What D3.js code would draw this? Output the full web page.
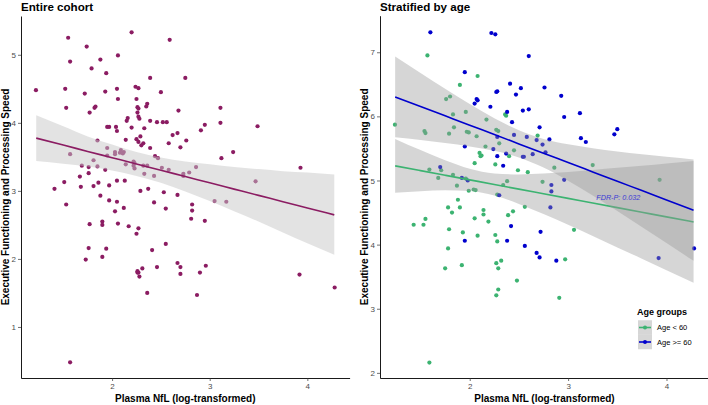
<!DOCTYPE html>
<html><head><meta charset="utf-8">
<script src="https://cdn.jsdelivr.net/npm/d3@7"></script>
<style>body{margin:0;background:#fff}svg{display:block}text{font-family:"Liberation Sans",Arial,Helvetica,sans-serif}</style>
</head><body><svg id="c" width="708" height="405"></svg>
<script>
// ---------- data ----------
const xTicks = [2, 3, 4];
const leftYTicks = [1, 2, 3, 4, 5];
const rightYTicks = [2, 3, 4, 5, 6, 7];

// Entire cohort
const cohortX = [2.20,1.55,2.59,1.74,2.06,1.57,1.88,1.79,1.94,2.39,2.75,1.22,1.52,2.05,1.93,2.24,2.27,2.50,1.72,2.06,2.25,1.53,1.82,1.83,2.36,2.35,2.26,2.27,2.68,3.11,1.77,2.26,2.16,2.15,2.27,2.28,2.39,2.46,2.52,2.56,3.11,2.95,3.49,1.95,1.97,2.04,2.20,2.33,2.91,2.05,2.67,2.62,2.25,2.29,2.14,2.76,1.85,2.27,2.32,2.30,2.58,2.39,2.70,1.95,2.09,2.12,3.24,1.57,1.95,2.03,2.44,2.03,2.08,2.11,2.47,3.12,1.81,2.22,2.23,2.14,2.22,1.85,1.76,1.69,2.32,2.36,2.51,2.58,2.86,2.23,1.93,2.79,2.73,2.73,2.33,2.43,1.76,3.93,1.67,3.47,1.51,1.86,2.05,2.13,1.97,1.68,1.41,1.81,2.37,2.29,1.88,2.53,2.67,1.97,3.05,3.17,1.53,2.05,2.82,2.43,2.82,2.03,2.12,2.55,2.81,1.90,2.95,1.77,1.90,2.06,2.17,2.27,2.25,2.55,1.76,1.94,2.41,1.90,1.73,2.67,2.70,2.96,2.46,2.31,2.26,2.27,2.26,2.28,2.70,2.90,3.92,4.28,2.36,2.87,1.57];
const cohortY = [5.33,5.25,5.22,5.12,4.99,4.90,4.93,4.80,4.73,4.66,4.66,4.48,4.50,4.50,4.46,4.53,4.51,4.45,4.43,4.35,4.35,4.22,4.22,4.24,4.28,4.24,4.23,4.21,4.18,4.22,4.15,4.15,4.07,4.03,4.09,4.06,4.03,4.01,4.01,4.01,4.00,3.97,3.95,3.94,3.94,3.94,3.93,3.92,3.89,3.88,3.85,3.82,3.76,3.80,3.75,3.74,3.74,3.72,3.70,3.67,3.70,3.63,3.64,3.63,3.60,3.57,3.57,3.54,3.52,3.54,3.51,3.57,3.56,3.55,3.48,3.48,3.45,3.43,3.41,3.39,3.37,3.36,3.35,3.37,3.37,3.37,3.34,3.31,3.35,3.33,3.31,3.27,3.25,3.22,3.25,3.22,3.26,3.34,3.21,3.14,3.13,3.12,3.15,3.15,3.08,3.06,3.03,3.07,3.03,3.00,2.93,2.98,2.94,2.86,2.85,2.84,2.80,2.84,2.80,2.83,2.71,2.70,2.75,2.74,2.59,2.55,2.56,2.51,2.50,2.52,2.48,2.45,2.37,2.22,2.16,2.15,2.13,2.03,1.99,1.94,1.88,1.90,1.88,1.86,1.82,1.80,1.80,1.74,1.78,1.80,1.77,1.58,1.50,1.47,0.48];
const cohortFitX = [1.223,1.5,1.75,2.0,2.25,2.5,2.75,3.0,3.25,3.5,3.75,4.0,4.276];
const cohortFit  = [3.775,3.673,3.580,3.488,3.396,3.303,3.211,3.118,3.026,2.934,2.841,2.749,2.647];
const cohortLo   = [3.44,3.40,3.36,3.30,3.22,3.12,2.99,2.85,2.70,2.55,2.39,2.23,2.06];
const cohortHi   = [4.11,3.95,3.80,3.68,3.57,3.49,3.43,3.39,3.35,3.32,3.29,3.27,3.24];

// Stratified by age
const groups = ["Age < 60", "Age >= 60"];
const youngX = [1.57,2.08,1.90,1.76,1.80,1.96,1.24,1.83,1.54,1.55,1.79,1.84,1.97,1.99,2.17,2.27,2.29,2.36,2.37,2.07,2.30,2.16,2.10,2.12,2.11,2.05,2.40,2.45,2.49,2.59,2.69,2.26,1.59,1.71,1.68,1.83,1.87,1.96,1.99,2.04,2.06,2.28,2.38,2.34,2.86,3.25,3.93,2.74,1.88,1.78,1.90,1.82,1.55,1.43,1.53,2.14,2.14,2.05,2.19,2.44,2.39,2.56,1.79,1.93,2.08,2.26,2.28,1.78,2.32,2.27,2.29,1.92,1.75,2.48,2.29,2.27,1.59,3.06,2.97,2.91];
const youngY = [6.95,6.63,6.49,6.27,6.31,6.07,5.87,6.03,5.77,5.74,5.73,5.83,5.76,5.75,5.95,5.79,5.77,6.03,6.01,5.69,5.58,5.53,5.43,5.39,5.38,5.27,5.38,5.47,5.16,5.13,5.70,5.25,5.17,5.16,5.04,5.09,4.92,5.03,4.84,4.86,4.85,4.78,4.99,4.93,5.20,5.24,5.01,4.98,4.70,4.58,4.58,4.50,4.40,4.31,4.31,4.54,4.47,4.41,4.36,4.52,4.46,4.59,4.24,4.19,4.14,4.15,4.05,3.94,3.75,3.71,3.63,3.68,3.63,3.44,3.30,3.21,2.16,4.23,3.77,3.17];
const oldX = [1.60,2.22,2.26,2.60,1.95,2.41,2.52,2.76,2.93,2.27,2.28,2.47,2.07,2.08,2.05,2.21,2.96,3.12,2.38,2.60,2.54,2.43,2.71,2.81,3.13,3.18,3.50,3.47,2.28,2.45,2.58,2.68,2.74,1.95,2.24,2.37,2.64,2.54,2.55,2.28,2.77,2.34,1.70,1.92,1.98,2.83,2.83,2.96,2.30,2.82,2.42,2.72,1.95,2.38,2.56,2.68,2.71,2.88,3.92,4.28];
const oldY = [7.31,7.30,7.28,6.94,6.69,6.51,6.44,6.45,6.32,6.38,6.39,6.34,6.27,6.25,6.20,6.15,5.99,6.05,6.07,6.11,6.09,5.91,5.83,5.64,5.66,5.60,5.80,5.72,5.68,5.71,5.68,5.63,5.56,5.53,5.49,5.42,5.41,5.37,5.37,5.38,5.44,5.23,5.21,5.04,5.00,4.93,4.83,5.01,4.77,4.58,4.29,4.20,4.06,4.06,3.98,3.87,3.80,3.75,3.79,3.94];
const fitX    = [1.242,1.5,1.75,2.0,2.25,2.5,2.75,3.0,3.25,3.5,3.75,4.0,4.275];
const youngFit = [5.228,5.154,5.082,5.010,4.938,4.865,4.793,4.721,4.649,4.577,4.505,4.433,4.354];
const youngLo  = [4.807,4.834,4.849,4.837,4.767,4.635,4.477,4.308,4.134,3.957,3.780,3.601,3.404];
const youngHi  = [5.649,5.474,5.315,5.183,5.109,5.095,5.109,5.134,5.164,5.197,5.230,5.265,5.304];
const oldFit   = [6.304,6.154,6.008,5.862,5.717,5.571,5.425,5.280,5.134,4.988,4.843,4.697,4.537];
const oldLo    = [5.674,5.631,5.585,5.532,5.463,5.359,5.201,4.996,4.765,4.523,4.276,4.025,3.747];
const oldHi    = [6.934,6.677,6.431,6.192,5.971,5.783,5.649,5.564,5.503,5.453,5.410,5.369,5.327];
const fdrLabel = "FDR-P: 0.032";
const fdrPos = [3.51, 4.735];

// ---------- drawing ----------
const svg = d3.select("#c");
const purple = "#8B1C62", green = "#3CB371", blue = "#0000CD";
const FONT = '"Liberation Sans",Arial,Helvetica,sans-serif';

function panel(o){
  const g = svg.append("g");
  const x = d3.scaleLinear().domain(o.xd).range(o.xr);
  const y = d3.scaleLinear().domain(o.yd).range(o.yr);
  // points
  o.series.forEach(s=>{
    g.append("g").selectAll("circle").data(s.xs.map((v,i)=>[v,s.ys[i]])).join("circle")
      .attr("cx",d=>x(d[0])).attr("cy",d=>y(d[1])).attr("r",2.1).attr("fill",s.color);
  });
  // smooths
  o.smooths.forEach(s=>{
    const pts = s.xs.map((v,i)=>({x:v,lo:s.lo[i],hi:s.hi[i],f:s.fit[i]}));
    g.append("path").datum(pts)
      .attr("d",d3.area().x(d=>x(d.x)).y0(d=>y(d.lo)).y1(d=>y(d.hi)).curve(d3.curveMonotoneX))
      .attr("fill",s.fill).attr("fill-opacity",s.alpha);
    g.append("path").datum(pts)
      .attr("d",d3.line().x(d=>x(d.x)).y(d=>y(d.f)).curve(d3.curveMonotoneX))
      .attr("fill","none").attr("stroke",s.color).attr("stroke-width",1.6);
  });
  // axes
  const ax = g.append("g").attr("transform",`translate(0,${o.yr[0]})`)
    .call(d3.axisBottom(x).tickValues(xTicks).tickFormat(d3.format("d")).tickSize(3).tickSizeOuter(0).tickPadding(2));
  const ay = g.append("g").attr("transform",`translate(${o.xr[0]},0)`)
    .call(d3.axisLeft(y).tickValues(o.yTicks).tickFormat(d3.format("d")).tickSize(3).tickSizeOuter(0).tickPadding(2));
  [ax,ay].forEach(a=>{
    a.select(".domain").attr("stroke","#000").attr("stroke-width",0.9);
    a.selectAll(".tick line").attr("stroke","#333").attr("stroke-width",0.7);
    a.selectAll(".tick text").attr("fill","#4d4d4d").style("font-size","8px").style("font-family",FONT);
  });
  // titles
  g.append("text").attr("x",o.xr[0]).attr("y",11).text(o.title)
    .style("font-weight","bold").style("font-size","11.6px").attr("fill","#000");
  g.append("text").attr("x",(o.xr[0]+o.xr[1])/2).attr("y",402).attr("text-anchor","middle")
    .text("Plasma NfL (log-transformed)").style("font-weight","bold").style("font-size","10px");
  g.append("text").attr("transform",`translate(${o.ytx},${(o.yr[0]+o.yr[1])/2}) rotate(-90)`).attr("text-anchor","middle")
    .text("Executive Functioning and Processing Speed").style("font-weight","bold").style("font-size","10px");
  return {g,x,y};
}

panel({
  title:"Entire cohort", xd:[1.067,4.433], xr:[21,349.6], yd:[0.25,5.57], yr:[378,16], yTicks:leftYTicks, ytx:8.5,
  series:[{xs:cohortX,ys:cohortY,color:purple}],
  smooths:[{xs:cohortFitX,fit:cohortFit,lo:cohortLo,hi:cohortHi,color:purple,fill:"#c8c8c8",alpha:0.5}]
});

const R = panel({
  title:"Stratified by age", xd:[1.088,4.432], xr:[380,709], yd:[1.92,7.57], yr:[378,15.7], yTicks:rightYTicks, ytx:367.5,
  series:[{xs:youngX,ys:youngY,color:green},{xs:oldX,ys:oldY,color:blue}],
  smooths:[
    {xs:fitX,fit:youngFit,lo:youngLo,hi:youngHi,color:green,fill:"#999999",alpha:0.4},
    {xs:fitX,fit:oldFit,lo:oldLo,hi:oldHi,color:blue,fill:"#999999",alpha:0.4}
  ]
});
R.g.append("text").attr("x",R.x(fdrPos[0])).attr("y",R.y(fdrPos[1])+2.5).attr("text-anchor","middle")
  .text(fdrLabel).style("font-style","italic").style("font-size","7.2px").attr("fill","#3a3ad6");

// legend
const lg = svg.append("g").attr("transform","translate(637,0)");
lg.append("text").attr("x",0).attr("y",315).text("Age groups").style("font-weight","bold").style("font-size","9px");
[[groups[0],green],[groups[1],blue]].forEach((d,i)=>{
  const cy = 327.5 + i*14.5;
  lg.append("rect").attr("x",1).attr("y",cy-7.25).attr("width",14).attr("height",14.5).attr("fill","#999").attr("fill-opacity",0.4);
  lg.append("line").attr("x1",2).attr("x2",14).attr("y1",cy).attr("y2",cy).attr("stroke",d[1]).attr("stroke-width",1.6);
  lg.append("circle").attr("cx",8).attr("cy",cy).attr("r",2).attr("fill",d[1]);
  lg.append("text").attr("x",20).attr("y",cy+2.7).text(d[0]).style("font-size","7.5px").attr("fill","#000");
});
</script></body></html>
